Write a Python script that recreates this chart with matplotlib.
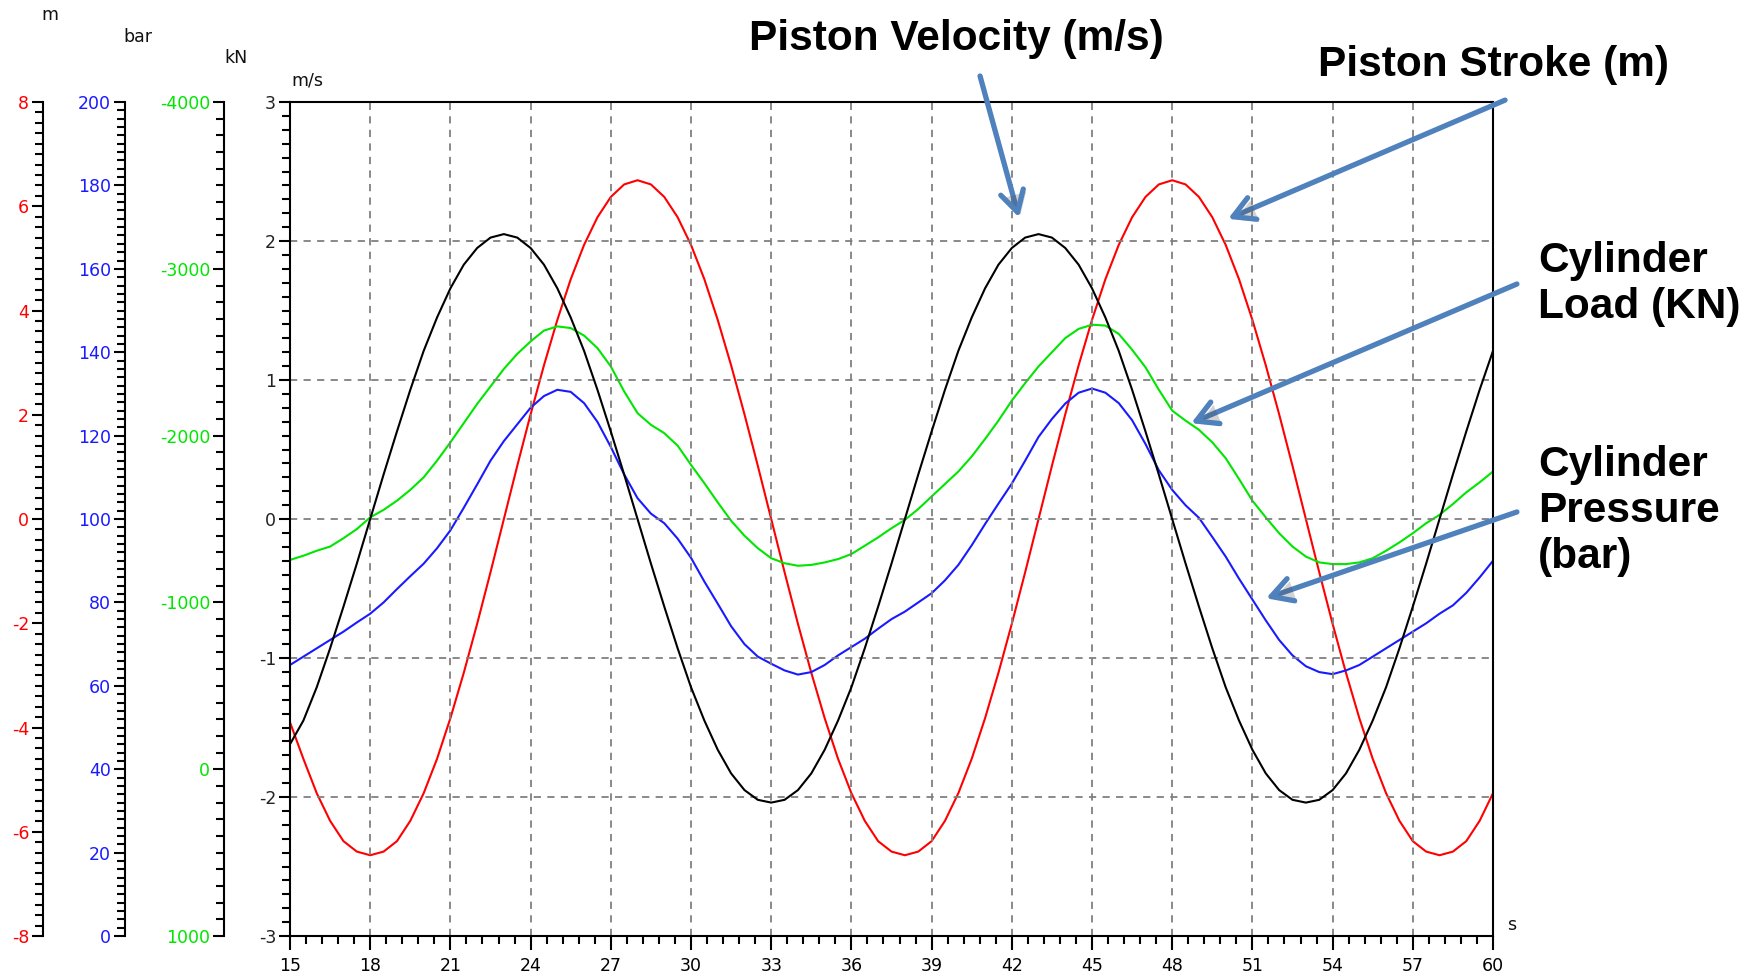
import matplotlib
matplotlib.use("Agg")
import matplotlib.pyplot as plt
import matplotlib.patheffects as pe
from matplotlib.ticker import MultipleLocator
import numpy as np

plt.rcParams["axes.unicode_minus"] = False

# time base (s) and the four recorded channels, sampled every 0.5 s
time = np.arange(15, 60.5, 0.5)
velocity = [-1.62, -1.45, -1.21, -0.93, -0.63, -0.32,
            0.0, 0.32, 0.63, 0.93, 1.21, 1.45, 1.66, 1.83, 1.95, 2.025,
            2.05, 2.025, 1.95, 1.83, 1.66, 1.45, 1.21, 0.93, 0.63, 0.32,
            0.0, -0.32, -0.63, -0.93, -1.21, -1.45, -1.66, -1.83, -1.95, -2.02,
            -2.04, -2.02, -1.95, -1.83, -1.66, -1.45, -1.21, -0.93, -0.63, -0.32,
            0.0, 0.32, 0.63, 0.93, 1.21, 1.45, 1.66, 1.83, 1.95, 2.025,
            2.05, 2.025, 1.95, 1.83, 1.66, 1.45, 1.21, 0.93, 0.63, 0.32,
            0.0, -0.32, -0.63, -0.93, -1.21, -1.45, -1.66, -1.83, -1.95, -2.02,
            -2.04, -2.02, -1.95, -1.83, -1.66, -1.45, -1.21, -0.93, -0.63, -0.32,
            0.0, 0.32, 0.63, 0.93, 1.21]                     # m/s
stroke = [-3.9, -4.60, -5.26, -5.79, -6.18, -6.38,
          -6.45, -6.38, -6.18, -5.79, -5.26, -4.60, -3.82, -2.95, -2.01, -1.02,
          0.0, 1.02, 2.01, 2.95, 3.82, 4.60, 5.26, 5.79, 6.18, 6.42,
          6.5, 6.42, 6.18, 5.79, 5.26, 4.60, 3.82, 2.95, 2.01, 1.02,
          0.0, -1.02, -2.01, -2.95, -3.82, -4.60, -5.26, -5.79, -6.18, -6.38,
          -6.45, -6.38, -6.18, -5.79, -5.26, -4.60, -3.82, -2.95, -2.01, -1.02,
          0.0, 1.02, 2.01, 2.95, 3.82, 4.60, 5.26, 5.79, 6.18, 6.42,
          6.5, 6.42, 6.18, 5.79, 5.26, 4.60, 3.82, 2.95, 2.01, 1.02,
          0.0, -1.02, -2.01, -2.95, -3.82, -4.60, -5.26, -5.79, -6.18, -6.38,
          -6.45, -6.38, -6.18, -5.79, -5.26]                # m
load = [-1255, -1280, -1310, -1335, -1385, -1440, -1510, -1555, -1610, -1675,
        -1750, -1850, -1960, -2075, -2190, -2295, -2400, -2490, -2565, -2630,
        -2655, -2645, -2600, -2525, -2415, -2265, -2135, -2065, -2015, -1940,
        -1825, -1715, -1600, -1490, -1400, -1325, -1265, -1235, -1220, -1225,
        -1240, -1260, -1290, -1340, -1390, -1445, -1495, -1560, -1635, -1710,
        -1785, -1875, -1980, -2090, -2210, -2315, -2415, -2500, -2585, -2640,
        -2665, -2660, -2610, -2515, -2410, -2275, -2150, -2090, -2035, -1960,
        -1865, -1740, -1610, -1510, -1415, -1335, -1275, -1240, -1230, -1230,
        -1240, -1265, -1310, -1360, -1415, -1475, -1525, -1590, -1660, -1720,
        -1785]                                              # kN
pressure = [65.0, 67.0, 69.0, 71.0, 73.0, 75.2, 77.3, 80.0, 83.2, 86.3,
            89.3, 93.0, 97.3, 102.7, 108.3, 114.0, 118.7, 122.7, 126.7, 129.5,
            131.0, 130.5, 127.8, 123.3, 117.3, 110.7, 105.0, 101.3, 99.0, 95.3,
            90.7, 85.0, 79.7, 74.3, 70.0, 67.0, 65.3, 63.7, 62.7, 63.3,
            65.0, 67.3, 69.3, 71.3, 73.7, 76.0, 77.8, 80.0, 82.2, 85.3,
            89.0, 93.7, 98.8, 103.7, 108.5, 114.0, 119.7, 124.0, 127.7, 130.3,
            131.3, 130.3, 127.8, 123.7, 118.0, 111.7, 107.0, 103.3, 100.3, 95.7,
            91.0, 85.7, 80.7, 75.7, 71.0, 67.3, 64.7, 63.3, 62.8, 63.7,
            65.0, 67.0, 69.0, 71.0, 73.0, 75.0, 77.3, 79.3, 82.3, 86.0,
            90.0]                                           # bar

RED, BLUE, GREEN = "#ff0000", "#1a1aff", "#00e600"
ARROW = "#4f81bd"
TICK_FS = 12.5

fig = plt.figure(figsize=(17.46, 9.72), dpi=100)
ax = fig.add_axes([0.1661, 0.0370, 0.689, 0.858])


def style_ticks(a, axis, color):
    a.tick_params(axis=axis, which="major", direction="out", length=8, width=1.5,
                  labelsize=TICK_FS, labelcolor=color, pad=2, color="black")
    a.tick_params(axis=axis, which="minor", direction="out", length=5.5, width=1.5,
                  color="black")


# main velocity axis
ax.set_xlim(15, 60)
ax.set_ylim(-3, 3)
ax.xaxis.set_major_locator(MultipleLocator(3))
ax.xaxis.set_minor_locator(MultipleLocator(0.6))
ax.yaxis.set_major_locator(MultipleLocator(1))
ax.yaxis.set_minor_locator(MultipleLocator(0.1))
style_ticks(ax, "x", "black")
style_ticks(ax, "y", "#222222")
ax.tick_params(axis="x", which="major", length=10, pad=5)
ax.grid(True, which="major", color="#808080", linestyle=(0, (4, 3.5)), linewidth=1.3)
for s in ax.spines.values():
    s.set_linewidth(1.5)
    s.set_color("black")


def side_axis(frac, ylim, major, minor, color):
    tw = ax.twinx()
    tw.set_ylim(*ylim)
    tw.yaxis.tick_left()
    tw.yaxis.set_label_position("left")
    tw.spines["left"].set_visible(True)
    tw.spines["left"].set_position(("axes", frac))
    tw.spines["left"].set_linewidth(1.5)
    for k in ("right", "top", "bottom"):
        tw.spines[k].set_visible(False)
    tw.yaxis.set_major_locator(MultipleLocator(major))
    tw.yaxis.set_minor_locator(MultipleLocator(minor))
    style_ticks(tw, "y", color)
    return tw


ax_m = side_axis(-0.2053, (-8, 8), 2, 0.2, RED)
ax_bar = side_axis(-0.1372, (0, 200), 20, 2, BLUE)
ax_kn = side_axis(-0.0549, (1000, -4000), 1000, 100, GREEN)

ax_kn.plot(time, load, color=GREEN, lw=1.5, zorder=3)
ax_bar.plot(time, pressure, color=BLUE, lw=1.5, zorder=3)
ax_m.plot(time, stroke, color=RED, lw=1.5, zorder=4)
ax.plot(time, velocity, color="black", lw=1.5, zorder=5)
ax.set_zorder(ax_m.zorder + 1)
ax.patch.set_visible(False)

# unit captions
unit_kw = dict(fontsize=TICK_FS, ha="center", va="center", color="#111111")
fig.text(0.0286, 0.9850, "m", **unit_kw)
fig.text(0.0790, 0.9620, "bar", **unit_kw)
fig.text(0.1350, 0.9400, "kN", **unit_kw)
fig.text(0.1760, 0.9170, "m/s", **unit_kw)
fig.text(0.8660, 0.0480, "s", **unit_kw)

# callouts
big = dict(fontsize=30.5, fontweight="bold", family="Liberation Sans",
           ha="left", va="center", color="black")
fig.text(0.429, 0.960, "Piston Velocity (m/s)", **big)
fig.text(0.755, 0.933, "Piston Stroke (m)", **big)
fig.text(0.881, 0.708, "Cylinder\nLoad (KN)", **big)
fig.text(0.881, 0.474, "Cylinder\nPressure\n(bar)", **big)

shadow = [pe.SimplePatchShadow(offset=(2, -2), alpha=0.25), pe.Normal()]
callouts = [((42.27, 2.17), (0.5613, 0.9218)),
            ((50.09, 2.16), (0.8620, 0.8970)),
            ((48.71, 0.69), (0.8688, 0.7078)),
            ((51.51, -0.57), (0.8688, 0.4733))]
for head, tail in callouts:
    an = ax.annotate("", xy=head, xycoords="data", xytext=tail,
                     textcoords="figure fraction", annotation_clip=False,
                     arrowprops=dict(arrowstyle="->,head_length=0.75,head_width=0.42",
                                     color=ARROW, lw=3.8, mutation_scale=20,
                                     shrinkA=0, shrinkB=0))
    an.arrow_patch.set_path_effects(shadow)
    an.set_zorder(10)

fig.savefig("out.png", dpi=100)
